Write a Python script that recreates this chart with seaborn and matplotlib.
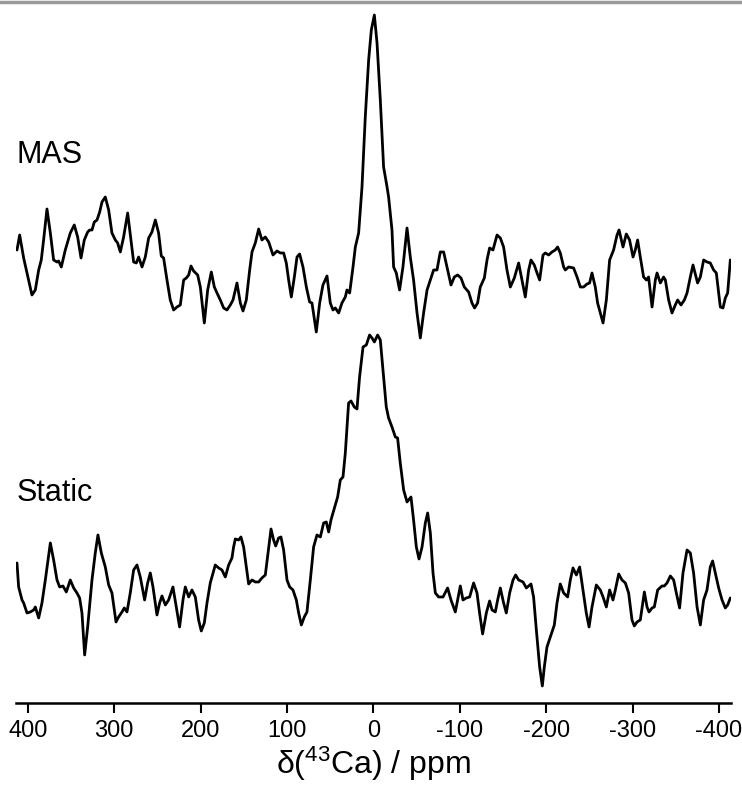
import numpy as np
import pandas as pd
import seaborn as sns
import matplotlib.pyplot as plt

# -----------------------------
# Spectra (ppm, intensity in arbitrary units)
# -----------------------------
mas_ppm = [412.4, 409.3, 404.7, 400.8, 395.1, 391.2, 387.3, 384.3, 381.6, 377.7,
           373.8, 370.0, 366.1, 364.2, 361.1, 356.5, 350.7, 346.1, 342.2, 338.3,
           334.5, 330.6, 328.3, 325.6, 322.9, 319.8, 316.7, 314.0, 310.2, 306.3,
           302.5, 298.6, 295.9, 292.8, 289.0, 284.3, 280.5, 277.4, 274.3, 271.6,
           267.7, 263.9, 260.0, 256.2, 252.3, 248.5, 245.4, 242.7, 238.8, 235.0,
           231.1, 227.2, 223.4, 219.5, 216.4, 213.7, 211.0, 208.0, 203.3, 200.2,
           195.6, 191.7, 187.5, 184.0, 180.9, 177.1, 173.2, 169.4, 165.5, 162.4,
           157.8, 153.9, 150.8, 147.0, 143.1, 140.4, 136.6, 132.7, 128.9, 125.0,
           121.1, 116.1, 111.5, 107.6, 103.8, 100.7, 98.0, 94.9, 91.4, 88.3,
           85.3, 81.4, 77.5, 73.7, 71.0, 66.0, 62.1, 58.3, 53.6, 49.8,
           46.7, 44.0, 40.1, 36.3, 32.4, 30.5, 27.4, 23.5, 20.8, 17.0,
           13.1, 9.3, 5.4, 2.3, -1.2, -4.3, -8.1, -11.9, -15.9, -17.7,
           -21.6, -23.5, -26.6, -30.4, -34.3, -39.0, -42.8, -46.6, -50.6, -54.4,
           -58.2, -62.2, -66.0, -69.8, -73.7, -77.5, -81.4, -85.3, -89.9, -93.8,
           -97.6, -101.5, -105.3, -110.3, -114.2, -117.2, -120.7, -123.8, -128.5, -131.6,
           -134.6, -138.5, -143.2, -147.0, -150.8, -154.7, -158.6, -163.2, -168.2, -172.1,
           -175.9, -179.8, -182.5, -186.3, -189.5, -192.5, -196.4, -199.1, -202.9, -206.8,
           -210.6, -213.3, -216.4, -220.3, -222.2, -226.0, -231.8, -235.8, -239.6, -243.4,
           -247.3, -250.3, -253.1, -256.9, -259.6, -262.7, -265.9, -269.7, -273.5, -278.1,
           -282.1, -284.4, -289.0, -292.8, -296.6, -300.6, -303.2, -305.9, -309.0, -312.8,
           -316.0, -318.6, -322.6, -326.4, -328.4, -332.2, -336.0, -338.0, -341.8, -345.7,
           -349.5, -352.2, -356.1, -360.0, -363.1, -366.9, -370.0, -375.3, -378.5, -382.3,
           -386.2, -390.0, -393.9, -397.0, -401.6, -404.7, -407.4, -410.1, -413.2]
mas_int = [0.30, 0.45, 0.22, 0.07, -0.15, -0.10, 0.10, 0.20, 0.40, 0.71,
           0.47, 0.20, 0.18, 0.19, 0.13, 0.30, 0.47, 0.55, 0.43, 0.22,
           0.40, 0.48, 0.50, 0.50, 0.58, 0.60, 0.68, 0.78, 0.83, 0.70,
           0.47, 0.40, 0.37, 0.28, 0.43, 0.67, 0.40, 0.18, 0.17, 0.23,
           0.13, 0.23, 0.42, 0.48, 0.60, 0.47, 0.24, 0.22, 0.00, -0.20,
           -0.30, -0.27, -0.25, 0.00, 0.02, 0.05, 0.14, 0.09, 0.05, -0.07,
           -0.43, -0.10, 0.08, -0.07, -0.13, -0.20, -0.28, -0.30, -0.25, -0.20,
           -0.03, -0.23, -0.31, -0.20, 0.10, 0.28, 0.37, 0.51, 0.40, 0.43,
           0.38, 0.25, 0.29, 0.27, 0.27, 0.17, 0.00, -0.17, 0.03, 0.23,
           0.26, 0.13, -0.07, -0.22, -0.23, -0.52, -0.23, -0.05, 0.04, -0.23,
           -0.30, -0.28, -0.33, -0.23, -0.17, -0.10, -0.13, 0.13, 0.33, 0.47,
           0.93, 1.63, 2.20, 2.50, 2.65, 2.37, 1.80, 1.13, 0.93, 0.83,
           0.50, 0.13, 0.07, -0.10, 0.13, 0.52, 0.23, 0.00, -0.33, -0.58,
           -0.33, -0.10, 0.00, 0.10, 0.10, 0.28, 0.28, 0.13, -0.05, 0.03,
           0.05, 0.02, -0.07, -0.12, -0.23, -0.28, -0.23, -0.07, 0.02, 0.20,
           0.32, 0.30, 0.45, 0.42, 0.33, 0.10, -0.07, 0.02, 0.17, 0.00,
           -0.17, 0.10, 0.20, 0.15, 0.07, 0.00, 0.25, 0.27, 0.25, 0.28,
           0.30, 0.33, 0.27, 0.13, 0.10, 0.13, 0.12, 0.03, -0.07, -0.07,
           -0.04, -0.03, 0.07, -0.07, -0.23, -0.33, -0.43, -0.20, 0.20, 0.30,
           0.45, 0.50, 0.33, 0.46, 0.40, 0.23, 0.30, 0.40, 0.23, 0.03,
           0.00, 0.03, -0.27, 0.00, 0.07, -0.03, 0.03, 0.00, -0.20, -0.33,
           -0.25, -0.20, -0.25, -0.20, -0.13, 0.03, 0.15, -0.03, 0.03, 0.20,
           0.18, 0.17, 0.10, 0.07, -0.27, -0.28, -0.18, -0.13, 0.20]

static_ppm = [412.4, 410.5, 406.6, 404.7, 400.8, 397.0, 393.1, 391.2, 387.3, 383.5,
              379.6, 373.8, 370.0, 366.1, 363.0, 359.2, 355.3, 350.7, 346.8, 343.0,
              339.9, 337.2, 334.1, 330.6, 325.6, 321.8, 318.7, 314.8, 310.2, 306.3,
              302.5, 297.8, 294.8, 290.9, 288.2, 285.1, 281.3, 277.4, 273.5, 269.7,
              264.7, 261.2, 258.1, 255.0, 250.4, 247.3, 244.6, 240.7, 236.9, 231.9,
              228.0, 224.2, 220.3, 217.6, 213.7, 209.9, 206.0, 202.2, 199.1, 195.6,
              192.5, 188.7, 182.9, 179.0, 175.2, 171.3, 167.4, 163.6, 161.7, 159.7,
              155.9, 153.2, 150.1, 147.0, 144.3, 140.4, 136.6, 132.7, 128.9, 125.0,
              121.9, 118.4, 115.4, 113.0, 109.6, 106.9, 103.8, 99.9, 96.8, 93.0,
              89.1, 86.4, 83.3, 79.9, 76.8, 72.9, 69.1, 65.2, 61.3, 57.5,
              54.4, 51.7, 49.0, 46.7, 44.0, 41.3, 38.2, 35.1, 32.4, 28.6,
              25.8, 22.0, 18.9, 15.9, 11.9, 8.1, 4.3, 1.5, -1.2, -5.0,
              -8.1, -11.9, -15.0, -17.7, -21.6, -25.5, -28.1, -31.2, -35.1, -39.0,
              -43.6, -46.6, -49.8, -52.9, -56.4, -60.2, -62.9, -66.0, -69.1, -71.8,
              -75.6, -80.7, -86.0, -89.9, -94.9, -97.6, -100.7, -103.8, -107.6, -111.5,
              -116.1, -120.0, -123.0, -126.5, -130.8, -134.6, -137.4, -141.2, -143.9, -147.0,
              -150.8, -153.9, -157.8, -161.7, -164.7, -168.2, -173.3, -177.1, -182.5, -185.5,
              -188.7, -192.5, -195.6, -197.9, -201.0, -204.9, -209.5, -212.6, -216.4, -220.3,
              -224.9, -228.0, -231.1, -235.0, -238.8, -242.7, -246.5, -249.7, -253.1, -258.1,
              -262.7, -265.9, -269.7, -273.5, -277.4, -280.1, -284.0, -287.8, -291.7, -295.5,
              -299.4, -302.1, -305.2, -309.0, -313.7, -316.8, -319.1, -322.6, -325.2, -329.1,
              -334.1, -336.8, -339.9, -343.8, -347.6, -350.7, -354.5, -358.4, -363.1, -366.9,
              -370.7, -374.7, -378.5, -382.3, -386.2, -390.0, -392.7, -395.8, -399.7, -403.6,
              -407.4, -410.1, -413.2]
static_int = [0.37, 0.13, 0.00, -0.03, -0.13, -0.12, -0.10, -0.07, -0.18, -0.03,
              0.20, 0.57, 0.40, 0.20, 0.13, 0.14, 0.08, 0.20, 0.12, 0.07,
              0.02, -0.13, -0.55, -0.27, 0.20, 0.47, 0.65, 0.47, 0.33, 0.15,
              0.07, -0.22, -0.17, -0.12, -0.08, -0.12, 0.07, 0.30, 0.35, 0.23,
              0.00, 0.17, 0.27, 0.13, -0.15, -0.03, 0.04, -0.05, 0.00, 0.13,
              -0.07, -0.27, 0.00, 0.13, 0.03, 0.10, 0.03, -0.20, -0.31, -0.23,
              -0.03, 0.17, 0.35, 0.32, 0.30, 0.23, 0.35, 0.42, 0.53, 0.61,
              0.60, 0.63, 0.53, 0.33, 0.16, 0.20, 0.18, 0.18, 0.22, 0.25,
              0.47, 0.71, 0.60, 0.54, 0.62, 0.63, 0.50, 0.20, 0.13, 0.10,
              0.00, -0.13, -0.25, -0.17, -0.12, 0.20, 0.53, 0.65, 0.63, 0.77,
              0.78, 0.68, 0.80, 0.87, 0.95, 1.03, 1.20, 1.23, 1.47, 1.97,
              1.99, 1.93, 1.91, 2.23, 2.53, 2.55, 2.65, 2.62, 2.58, 2.65,
              2.60, 2.23, 1.93, 1.82, 1.73, 1.63, 1.62, 1.37, 1.10, 0.98,
              1.03, 0.80, 0.53, 0.41, 0.53, 0.77, 0.87, 0.67, 0.27, 0.07,
              0.03, 0.03, 0.12, 0.00, -0.12, 0.00, 0.14, 0.00, 0.02, 0.03,
              0.17, 0.07, -0.13, -0.34, -0.13, -0.01, -0.10, -0.12, 0.00, 0.12,
              -0.03, -0.13, 0.07, 0.20, 0.25, 0.20, 0.18, 0.12, 0.16, 0.03,
              -0.30, -0.67, -0.86, -0.67, -0.47, -0.37, -0.25, -0.03, 0.16, 0.07,
              0.03, 0.20, 0.32, 0.25, 0.33, 0.10, -0.13, -0.27, -0.07, 0.15,
              0.10, 0.03, -0.07, 0.10, 0.00, 0.10, 0.26, 0.20, 0.17, 0.07,
              -0.20, -0.26, -0.22, -0.20, 0.08, -0.07, -0.12, -0.08, -0.07, 0.10,
              0.14, 0.14, 0.17, 0.24, 0.20, 0.07, -0.08, 0.27, 0.50, 0.47,
              0.27, -0.07, -0.25, 0.00, 0.10, 0.33, 0.39, 0.27, 0.12, 0.00,
              -0.08, -0.05, 0.02]

tick_vals = [400, 300, 200, 100, 0, -100, -200, -300, -400]
tick_text = ["400", "300", "200", "100", "0", "-100", "-200", "-300", "-400"]

MAS_OFFSET = 3.2  # vertical stacking of the two spectra

mas = pd.DataFrame({"ppm": mas_ppm, "I": np.array(mas_int) + MAS_OFFSET})
static = pd.DataFrame({"ppm": static_ppm, "I": static_int})

# -----------------------------
# Plot
# -----------------------------
sns.set_style("ticks")
plt.rcParams["font.family"] = ["Liberation Sans", "DejaVu Sans"]
plt.rcParams["mathtext.default"] = "regular"
for key in ["text.color", "axes.labelcolor", "xtick.color", "axes.edgecolor"]:
    plt.rcParams[key] = "black"

fig = plt.figure(figsize=(7.42, 7.85), dpi=100)
ax = fig.add_axes([0.0222, 0.1045, 0.963, 0.8955])

line_kw = dict(sort=False, color="black", lw=2.0, solid_joinstyle="round", ax=ax)
sns.lineplot(data=mas, x="ppm", y="I", **line_kw)
sns.lineplot(data=static, x="ppm", y="I", **line_kw)

ax.set_xlim(413, -414)
ax.set_ylim(-1.03, 6.0)
ax.set_xticks(tick_vals)
ax.set_xticklabels(tick_text, fontsize=17)
ax.set_yticks([])
ax.tick_params(axis="x", direction="out", length=7, width=1.5, pad=5)
ax.set_xlabel(r"δ($^{43}$Ca) / ppm", fontsize=23, labelpad=2)
ax.set_ylabel("")

for s in ["left", "right", "top"]:
    ax.spines[s].set_visible(False)
ax.spines["bottom"].set_linewidth(1.8)

ax.text(413, 4.45, "MAS", fontsize=22, ha="left", va="center")
ax.text(413, 1.07, "Static", fontsize=22, ha="left", va="center")

# thin grey rule along the top edge
fig.add_artist(plt.Line2D([0, 1], [0.998, 0.998], color="#9a9a9a", lw=2.5,
                          transform=fig.transFigure))

fig.savefig("out.png", dpi=100)
